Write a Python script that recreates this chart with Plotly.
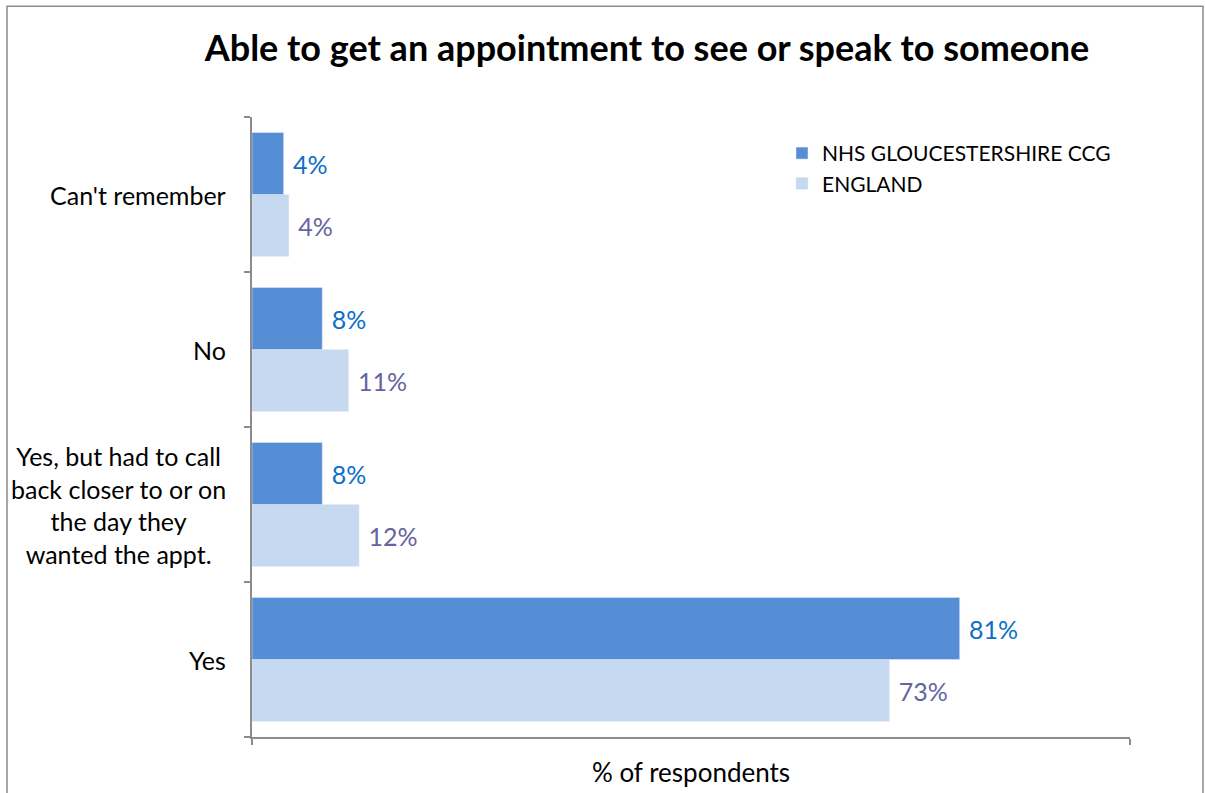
import plotly.graph_objects as go

categories = ["Yes", "Yes, but had to call<br>back closer to or on<br>the day they<br>wanted the appt.", "No", "Can't remember"]
nhs_values = [80.6, 8.0, 8.0, 3.6]
england_values = [72.6, 12.2, 11.0, 4.2]
series_names = ["NHS GLOUCESTERSHIRE CCG", "ENGLAND"]

FONT = "Lato"
W, H = 1205, 793
L, R, T, B = 252, 75, 117, 54
pw, ph = W - L - R, H - T - B

fig = go.Figure()
fig.add_trace(go.Bar(
    y=categories, x=england_values, orientation="h", name=series_names[1],
    marker=dict(color="#C6D9F1"),
    texttemplate="\u00a0%{x:.0f}%", textposition="outside",
    textfont=dict(color="#6464A0", size=25, family=FONT), cliponaxis=False,
))
fig.add_trace(go.Bar(
    y=categories, x=nhs_values, orientation="h", name=series_names[0],
    marker=dict(color="#558ED5"),
    texttemplate="\u00a0%{x:.0f}%", textposition="outside",
    textfont=dict(color="#0B6FC6", size=25, family=FONT), cliponaxis=False,
))

annotations = []
for c in categories:
    annotations.append(dict(
        x=(228 - L) / pw, xref="paper", y=c, yref="y", xanchor="right",
        align="center", text=c, showarrow=False,
        font=dict(size=25, family=FONT, color="#000000"),
    ))

fig.update_layout(
    width=W, height=H,
    margin=dict(l=L, r=R, t=T, b=B),
    paper_bgcolor="white", plot_bgcolor="white",
    barmode="group", bargap=0.2, bargroupgap=0,
    font=dict(family=FONT, color="#000000"),
    title=dict(text="<b>Able to get an appointment to see or speak to someone</b>",
               x=(647) / W, xanchor="center", y=1 - 48 / H, yanchor="middle",
               font=dict(size=36, family=FONT, color="#000000")),
    legend=dict(x=(782 - L) / pw, y=(739 - 133) / ph, xanchor="left", yanchor="top",
                traceorder="reversed", font=dict(size=21, family=FONT),
                bgcolor="rgba(0,0,0,0)", itemwidth=30, tracegroupgap=4),
    xaxis=dict(range=[0, 100], showgrid=False, zeroline=False, showline=True,
               linecolor="#8C8C8C", linewidth=1.5, ticks="outside", tickvals=[0, 100],
               ticklen=6, tickcolor="#8C8C8C", tickwidth=1.5, showticklabels=False,
               title=dict(text="% of respondents", font=dict(size=26, family=FONT), standoff=20)),
    yaxis=dict(showgrid=False, zeroline=False, showline=True, linecolor="#8C8C8C",
               linewidth=1.5, ticks="outside", tickson="boundaries", ticklen=6,
               tickcolor="#8C8C8C", tickwidth=1.5, showticklabels=False),
    annotations=annotations,
    shapes=[dict(type="rect", xref="paper", yref="paper",
                 x0=(7 - L) / pw, x1=(1203 - L) / pw,
                 y0=(H - T - B - (800 - T)) / ph, y1=(H - B - 6) / ph,
                 line=dict(color="#8C8C8C", width=1.5), layer="below")],
)

fig.write_html("out.html")
